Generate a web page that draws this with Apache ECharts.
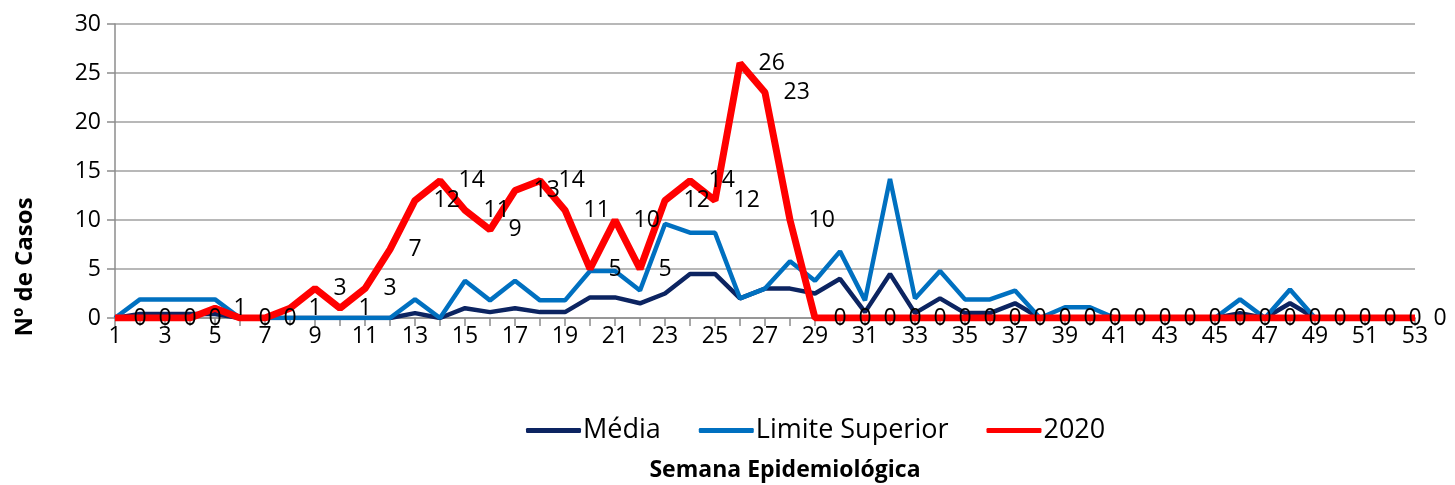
<!DOCTYPE html>
<html>
<head>
<meta charset="utf-8">
<script src="https://cdn.jsdelivr.net/npm/echarts@6/dist/echarts.min.js"></script>
<style>
  html, body { margin: 0; padding: 0; background: #fff; }
  #chart { width: 1455px; height: 485px; }
</style>
</head>
<body>
<div id="chart"></div>
<script>
// semanas epidemiológicas 1..53
var semanas = [];
for (var i = 1; i <= 53; i++) { semanas.push(String(i)); }

var media = [0, 0.4, 0.4, 0.4, 0.4, 0, 0, 0, 0, 0,
    0, 0, 0.5, 0, 1, 0.6, 1, 0.6, 0.6, 2.1,
    2.1, 1.5, 2.5, 4.5, 4.5, 2, 3, 3, 2.5, 4,
    0.6, 4.5, 0.5, 2, 0.5, 0.5, 1.5, 0, 0, 0,
    0, 0, 0, 0, 0, 0.5, 0, 1.5, 0, 0,
    0, 0, 0];

var limiteSuperior = [0, 1.9, 1.9, 1.9, 1.9, 0, 0, 0, 0, 0,
    0, 0, 1.9, 0, 3.8, 1.8, 3.8, 1.8, 1.8, 4.8,
    4.8, 2.8, 9.6, 8.7, 8.7, 2, 3, 5.8, 3.8, 6.8,
    1.8, 14.2, 2, 4.8, 1.9, 1.9, 2.8, 0, 1.1, 1.1,
    0, 0, 0, 0, 0, 1.9, 0, 2.9, 0, 0,
    0, 0, 0];

var casos2020 = [0, 0, 0, 0, 1, 0, 0, 1, 3, 1,
    3, 7, 12, 14, 11, 9, 13, 14, 11, 5,
    10, 5, 12, 14, 12, 26, 23, 10, 0, 0,
    0, 0, 0, 0, 0, 0, 0, 0, 0, 0,
    0, 0, 0, 0, 0, 0, 0, 0, 0, 0,
    0, 0, 0];

var fonte = '"Open Sans", Lato, sans-serif';

var option = {
    animation: false,
    textStyle: { fontFamily: fonte },
    grid: { left: 115, right: 40, top: 24, bottom: 167, outerBoundsMode: 'none' },
    legend: {
        left: 521,
        top: 412,
        icon: 'roundRect',
        itemWidth: 55,
        itemHeight: 5,
        itemGap: 38,
        textStyle: { fontSize: 27, color: '#000', fontFamily: fonte, padding: [0, 0, 0, -3] },
        data: ['Média', 'Limite Superior', '2020']
    },
    xAxis: {
        type: 'category',
        boundaryGap: false,
        data: semanas,
        name: 'Semana Epidemiológica',
        nameLocation: 'middle',
        nameGap: 141,
        nameTextStyle: { fontSize: 23, fontWeight: 'bold', color: '#000', padding: [0, 0, 0, 40] },
        axisLine: { lineStyle: { color: '#8c8c8c', width: 1.5 } },
        axisTick: { interval: 0, length: 8, lineStyle: { color: '#8c8c8c', width: 1.5 } },
        axisLabel: { interval: 1, fontSize: 23, color: '#000', margin: 7 }
    },
    yAxis: {
        type: 'value',
        min: 0,
        max: 30,
        interval: 5,
        axisLine: { show: true, lineStyle: { color: '#8c8c8c', width: 1.5 } },
        axisTick: { show: true, length: 8, lineStyle: { color: '#8c8c8c', width: 1.5 } },
        axisLabel: { fontSize: 23, color: '#000', margin: 14 },
        splitLine: { lineStyle: { color: '#a0a0a0', width: 1.5 } }
    },
    graphic: [{
        type: 'text',
        x: 25,
        y: 267,
        rotation: Math.PI / 2,
        style: {
            text: 'Nº de Casos',
            font: 'bold 24px ' + fonte,
            fill: '#000',
            align: 'center',
            verticalAlign: 'middle'
        }
    }],
    series: [
        {
            name: 'Média',
            type: 'line',
            data: media,
            symbol: 'none',
            color: '#0c2461',
            lineStyle: { width: 4.5, color: '#0c2461' }
        },
        {
            name: 'Limite Superior',
            type: 'line',
            data: limiteSuperior,
            symbol: 'none',
            color: '#0070c0',
            lineStyle: { width: 4.5, color: '#0070c0' }
        },
        {
            name: '2020',
            type: 'line',
            data: casos2020,
            symbol: 'circle',
            symbolSize: 1,
            color: '#ff0000',
            lineStyle: { width: 7, color: '#ff0000' },
            label: {
                show: true,
                position: 'right',
                distance: 18,
                fontSize: 23,
                color: '#000'
            }
        }
    ]
};

var myChart = echarts.init(document.getElementById('chart'));
myChart.setOption(option);
</script>
</body>
</html>
